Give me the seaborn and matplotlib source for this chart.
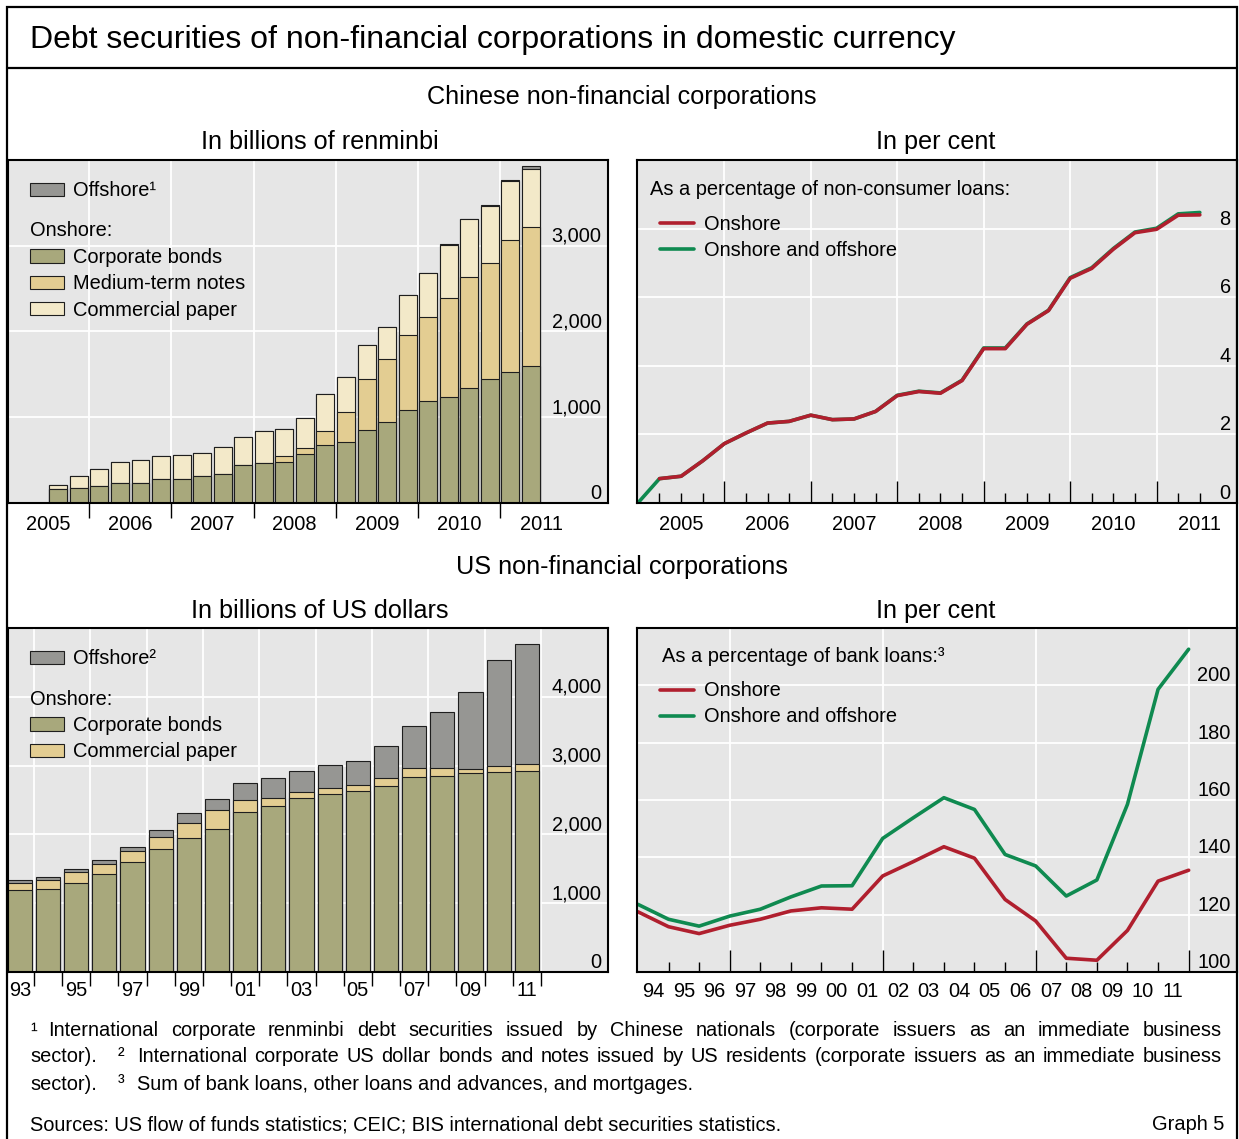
import numpy as np
import matplotlib
matplotlib.use("Agg")
import matplotlib.pyplot as plt
import seaborn as sns
from matplotlib.patches import Patch, Rectangle
from matplotlib.lines import Line2D

# ---------------------------------------------------------
# Data
# ---------------------------------------------------------
# Chinese corporations, stock outstanding, billions of renminbi
cn_quarters = ["2005Q3", "2005Q4",
               "2006Q1", "2006Q2", "2006Q3", "2006Q4",
               "2007Q1", "2007Q2", "2007Q3", "2007Q4",
               "2008Q1", "2008Q2", "2008Q3", "2008Q4",
               "2009Q1", "2009Q2", "2009Q3", "2009Q4",
               "2010Q1", "2010Q2", "2010Q3", "2010Q4",
               "2011Q1", "2011Q2"]
cn_bonds = [163, 175, 198, 233, 237, 280, 284, 311, 342, 440, 467, 475,
            568, 677, 716, 856, 942, 1089, 1187, 1237, 1342, 1447, 1533, 1595]
cn_mtn = [0, 0, 0, 0, 0, 0, 0, 0, 0, 0, 0, 78,
          74, 167, 346, 591, 743, 872, 980, 1156, 1292, 1355, 1537, 1623]
cn_cp = [51, 136, 199, 242, 261, 269, 272, 269, 308, 327, 370, 315,
         354, 424, 413, 393, 362, 459, 510, 619, 673, 661, 681, 681]
cn_offshore = [0, 0, 0, 0, 0, 0, 0, 0, 0, 0, 0, 0,
               0, 0, 0, 0, 3, 4, 6, 8, 10, 12, 18, 30]
cn_year_labels = ["2005", "2006", "2007", "2008", "2009", "2010", "2011"]

# Chinese corporations, per cent of non-consumer loans
cn_ratio_quarters = ["2004Q4",
                     "2005Q1", "2005Q2", "2005Q3", "2005Q4",
                     "2006Q1", "2006Q2", "2006Q3", "2006Q4",
                     "2007Q1", "2007Q2", "2007Q3", "2007Q4",
                     "2008Q1", "2008Q2", "2008Q3", "2008Q4",
                     "2009Q1", "2009Q2", "2009Q3", "2009Q4",
                     "2010Q1", "2010Q2", "2010Q3", "2010Q4",
                     "2011Q1", "2011Q2"]
cn_ratio_total = [0.0, 0.71, 0.78, 1.23, 1.73, 2.04, 2.33, 2.38, 2.56,
                  2.43, 2.45, 2.67, 3.14, 3.26, 3.21, 3.58, 4.52, 4.52,
                  5.22, 5.62, 6.57, 6.86, 7.42, 7.90, 8.01, 8.43, 8.47]
# onshore series starts one quarter later (2005Q1)
cn_ratio_onshore = [0.71, 0.78, 1.23, 1.73, 2.04, 2.33, 2.38, 2.56,
                    2.43, 2.45, 2.67, 3.13, 3.25, 3.20, 3.57, 4.50, 4.50,
                    5.21, 5.61, 6.55, 6.84, 7.40, 7.88, 7.98, 8.39, 8.40]

# US corporations, billions of US dollars (year-end)
us_years = [1993, 1994, 1995, 1996, 1997, 1998, 1999, 2000, 2001, 2002,
            2003, 2004, 2005, 2006, 2007, 2008, 2009, 2010, 2011]
us_bonds = [1188, 1212, 1299, 1420, 1600, 1784, 1953, 2075, 2327, 2414,
            2525, 2584, 2632, 2705, 2836, 2845, 2889, 2913, 2923]
us_cp = [111, 126, 155, 155, 160, 184, 219, 276, 174, 111,
         88, 97, 87, 121, 126, 126, 58, 83, 107]
us_offshore = [34, 43, 44, 54, 58, 92, 140, 160, 247, 291,
               310, 334, 345, 460, 610, 815, 1130, 1536, 1735]

# US corporations, per cent of bank loans (year-end)
us_ratio_onshore = [121.0, 115.8, 113.4, 116.3, 118.4, 121.3, 122.4, 121.9,
                    133.5, 138.5, 143.7, 139.7, 125.3, 117.8, 104.8, 104.1,
                    114.5, 131.7, 135.5]
us_ratio_total = [123.6, 118.4, 116.0, 119.5, 121.9, 126.2, 130.0, 130.1,
                  146.6, 153.8, 160.8, 156.7, 141.0, 137.0, 126.5, 132.1,
                  158.5, 198.6, 212.6]

# ---------------------------------------------------------
# Styling
# ---------------------------------------------------------
W, H = 1239, 1139
BG = "#e6e6e6"
C_BONDS = "#a8a87c"
C_MTN = "#e3cd92"
C_CP = "#f3e9c9"
C_OFF = "#969693"
EDGE = "#1e1e1e"
RED = "#b01f2e"
GREEN = "#0f8a50"
FS = 14.4       # ticks, legends, footnotes
HEAD_FS = 18.2  # section / panel headings
TITLE_FS = 23

sns.set_theme(style="white")
plt.rcParams["font.family"] = ["Liberation Sans", "DejaVu Sans"]
plt.rcParams["text.color"] = "black"
plt.rcParams["xtick.color"] = "black"
plt.rcParams["ytick.color"] = "black"

fig = plt.figure(figsize=(W / 100, H / 100), dpi=100)


def fx(x):
    return x / W


def fy(y):
    return 1 - y / H


def make_axes(box):
    x0, y0, x1, y1 = box
    return fig.add_axes([fx(x0), fy(y1), (x1 - x0) / W, (y1 - y0) / H])


def at(box, x, y):
    # pixel position -> axes fraction
    x0, y0, x1, y1 = box
    return (x - x0) / (x1 - x0), (y1 - y) / (y1 - y0)


def q_mid(q):
    return int(q[:4]) + (int(q[-1]) - 0.5) / 4


def q_end(q):
    return int(q[:4]) + int(q[-1]) / 4


def stacked_bars(ax, x, layers, colors, width):
    tops = np.cumsum(np.array(layers, dtype=float), axis=0)
    # draw the tallest (cumulative) layer first, then cover with lower ones
    for top, col in zip(tops[::-1], colors[::-1]):
        sns.barplot(x=x, y=top, native_scale=True, width=width, color=col,
                    edgecolor=EDGE, linewidth=0.8, saturation=1,
                    errorbar=None, ax=ax)


def frame(ax):
    ax.set_facecolor(BG)
    for sp in ax.spines.values():
        sp.set_visible(True)
        sp.set_color("black")
        sp.set_linewidth(1.5)
    ax.set_xlabel("")
    ax.set_ylabel("")
    ax.set_axisbelow(True)


def right_values(ax, ticks, labels):
    ax.set_yticks(ticks, labels)
    ax.yaxis.tick_right()
    ax.tick_params(axis="y", which="both", length=0, pad=-4.5, labelsize=FS,
                   labelright=True, labelleft=False)
    for lab in ax.get_yticklabels():
        lab.set_horizontalalignment("right")
        lab.set_verticalalignment("bottom")
    ax.yaxis.grid(True, color="white", linewidth=1.3)


def bottom_labels(ax, pos, labels, pad):
    sec = ax.secondary_xaxis("bottom")
    sec.set_xticks(pos, labels)
    sec.tick_params(axis="x", length=0, pad=pad, labelsize=FS)
    sec.spines["bottom"].set_visible(False)


def bar_legends(ax, box, offshore_label, onshore_items, top):
    h_off = [Patch(facecolor=C_OFF, edgecolor=EDGE, linewidth=0.8, label=offshore_label)]
    h_on = [Patch(facecolor=c, edgecolor=EDGE, linewidth=0.8, label=l) for l, c in onshore_items]
    common = dict(loc="upper left", frameon=False, fontsize=FS, handlelength=1.7,
                  handleheight=0.65, handletextpad=0.45, borderpad=0,
                  borderaxespad=0, labelspacing=0.37)
    leg1 = ax.legend(handles=h_off, bbox_to_anchor=at(box, 30, top + 21.5), **common)
    ax.add_artist(leg1)
    ax.legend(handles=h_on, title="Onshore:", title_fontsize=FS, alignment="left",
              bbox_to_anchor=at(box, 30, top + 61.5), **common)


def line_legend(ax, box, heading, head_x, top):
    ax.text(*at(box, head_x, top + 30), heading, transform=ax.transAxes,
            ha="left", va="center", fontsize=FS)
    handles = [Line2D([], [], color=RED, lw=2.6, label="Onshore"),
               Line2D([], [], color=GREEN, lw=2.6, label="Onshore and offshore")]
    ax.legend(handles=handles, loc="upper left", bbox_to_anchor=at(box, 660, top + 54.5),
              frameon=False, fontsize=FS, handlelength=1.7, handletextpad=0.5,
              borderpad=0, borderaxespad=0, labelspacing=0.35)


# ---------------------------------------------------------
# Top left: Chinese corporations, billions of renminbi
# ---------------------------------------------------------
box_tl = (8, 160, 608, 503)
ax = make_axes(box_tl)
stacked_bars(ax, [q_mid(q) for q in cn_quarters],
             [cn_bonds, cn_mtn, cn_cp, cn_offshore],
             [C_BONDS, C_MTN, C_CP, C_OFF], 0.875)
frame(ax)
ax.set_xlim(2005.013, 2012.313)
ax.set_ylim(0, 4000)
right_values(ax, [0, 1000, 2000, 3000], ["0", "1,000", "2,000", "3,000"])
ax.set_xticks(range(2006, 2012))
ax.tick_params(axis="x", which="major", direction="out", length=10.5, width=1,
               bottom=True, labelbottom=False)
ax.xaxis.grid(True, color="white", linewidth=1.3)
bottom_labels(ax, [int(y) + 0.5 for y in cn_year_labels], cn_year_labels, pad=8.5)
bar_legends(ax, box_tl, "Offshore¹",
            [("Corporate bonds", C_BONDS), ("Medium-term notes", C_MTN),
             ("Commercial paper", C_CP)], 160)

# ---------------------------------------------------------
# Top right: Chinese corporations, per cent
# ---------------------------------------------------------
box_tr = (637, 160, 1237, 503)
ax = make_axes(box_tr)
xr = [q_end(q) for q in cn_ratio_quarters]
sns.lineplot(x=xr, y=cn_ratio_total, color=GREEN, linewidth=2.6, ax=ax)
sns.lineplot(x=xr[1:], y=cn_ratio_onshore, color=RED, linewidth=2.6, ax=ax)
frame(ax)
ax.set_xlim(2004.99, 2011.93)
ax.set_ylim(0, 10)
right_values(ax, [0, 2, 4, 6, 8], ["0", "2", "4", "6", "8"])
ax.set_xticks(range(2006, 2012))
ax.set_xticks([p for p in xr[1:] if p % 1 != 0], minor=True)
ax.tick_params(axis="x", which="major", direction="in", length=16, width=1,
               bottom=True, labelbottom=False)
ax.tick_params(axis="x", which="minor", direction="in", length=7.5, width=1,
               bottom=True, labelbottom=False)
ax.xaxis.grid(True, which="major", color="white", linewidth=1.3)
bottom_labels(ax, [int(y) + 0.5 for y in cn_year_labels], cn_year_labels, pad=8.5)
line_legend(ax, box_tr, "As a percentage of non-consumer loans:", 650, 160)

# ---------------------------------------------------------
# Bottom left: US corporations, billions of US dollars
# ---------------------------------------------------------
box_bl = (8, 628, 608, 972)
ax = make_axes(box_bl)
stacked_bars(ax, us_years, [us_bonds, us_cp, us_offshore],
             [C_BONDS, C_MTN, C_OFF], 0.86)
frame(ax)
ax.set_xlim(1992.58, 2013.88)
ax.set_ylim(0, 5000)
right_values(ax, [0, 1000, 2000, 3000, 4000],
             ["0", "1,000", "2,000", "3,000", "4,000"])
ax.set_xticks([y + 0.5 for y in us_years[::2]])
ax.set_xticks([y + 0.5 for y in us_years[1::2]], minor=True)
ax.tick_params(axis="x", which="both", direction="out", length=10, width=1,
               bottom=True, labelbottom=False)
ax.xaxis.grid(True, which="major", color="white", linewidth=1.3)
bottom_labels(ax, us_years[::2], [f"{y % 100:02d}" for y in us_years[::2]], pad=6.5)
bar_legends(ax, box_bl, "Offshore²",
            [("Corporate bonds", C_BONDS), ("Commercial paper", C_MTN)], 628)

# ---------------------------------------------------------
# Bottom right: US corporations, per cent
# ---------------------------------------------------------
box_br = (637, 628, 1237, 972)
ax = make_axes(box_br)
xu = [y + 1 for y in us_years]  # year-end positions
sns.lineplot(x=xu, y=us_ratio_total, color=GREEN, linewidth=2.6, ax=ax)
sns.lineplot(x=xu, y=us_ratio_onshore, color=RED, linewidth=2.6, ax=ax)
frame(ax)
ax.set_xlim(1993.97, 2013.58)
ax.set_ylim(100, 220)
right_values(ax, [100, 120, 140, 160, 180, 200],
             ["100", "120", "140", "160", "180", "200"])
big = [1997, 2002, 2007, 2012]
ax.set_xticks(big)
ax.set_xticks([p for p in xu[1:] if p not in big], minor=True)
ax.tick_params(axis="x", which="major", direction="in", length=16, width=1,
               bottom=True, labelbottom=False)
ax.tick_params(axis="x", which="minor", direction="in", length=7.5, width=1,
               bottom=True, labelbottom=False)
ax.xaxis.grid(True, which="major", color="white", linewidth=1.3)
bottom_labels(ax, [y + 0.5 for y in us_years[1:]],
              [f"{y % 100:02d}" for y in us_years[1:]], pad=7)
line_legend(ax, box_br, "As a percentage of bank loans:³", 662, 627)

# ---------------------------------------------------------
# Frame, headings and notes
# ---------------------------------------------------------
fig.add_artist(Rectangle((fx(7), fy(1150)), (1237 - 7) / W, (1150 - 7) / H,
                         transform=fig.transFigure, fill=False, ec="black",
                         lw=1.6, clip_on=False))
fig.add_artist(Line2D([fx(7), fx(1237)], [fy(68), fy(68)], color="black", lw=1.6))

fig.text(fx(30), fy(40), "Debt securities of non-financial corporations in domestic currency",
         fontsize=TITLE_FS, ha="left", va="center")
fig.text(fx(622), fy(97), "Chinese non-financial corporations", fontsize=HEAD_FS,
         ha="center", va="center")
fig.text(fx(320), fy(142), "In billions of renminbi", fontsize=HEAD_FS, ha="center", va="center")
fig.text(fx(936), fy(142), "In per cent", fontsize=HEAD_FS, ha="center", va="center")
fig.text(fx(622), fy(567), "US non-financial corporations", fontsize=HEAD_FS,
         ha="center", va="center")
fig.text(fx(320), fy(611), "In billions of US dollars", fontsize=HEAD_FS, ha="center", va="center")
fig.text(fx(936), fy(611), "In per cent", fontsize=HEAD_FS, ha="center", va="center")


def justified(x0, x1, y, text):
    items = [fig.text(0, fy(y), w, fontsize=FS, ha="left", va="center")
             for w in text.split()]
    renderer = fig.canvas.get_renderer()
    widths = [t.get_window_extent(renderer).width for t in items]
    gap = (x1 - x0 - sum(widths)) / (len(items) - 1)
    pos = x0
    for t, w in zip(items, widths):
        t.set_x(fx(pos))
        pos += w + gap


def note(x, y, text, ha="left"):
    fig.text(fx(x), fy(y), text, fontsize=FS, ha=ha, va="center")


note(30, 1031, "¹")
justified(48, 1222, 1031, "International corporate renminbi debt securities issued by "
          "Chinese nationals (corporate issuers as an immediate business")
note(30, 1057, "sector).")
note(118, 1057, "²")
justified(137, 1222, 1057, "International corporate US dollar bonds and notes issued by "
          "US residents (corporate issuers as an immediate business")
note(30, 1084, "sector).")
note(118, 1084, "³")
note(137, 1084, "Sum of bank loans, other loans and advances, and mortgages.")
note(30, 1125, "Sources: US flow of funds statistics; CEIC; BIS international debt "
     "securities statistics.")
note(1224, 1125, "Graph 5", ha="right")

fig.savefig("out.png", dpi=100, facecolor="white")
